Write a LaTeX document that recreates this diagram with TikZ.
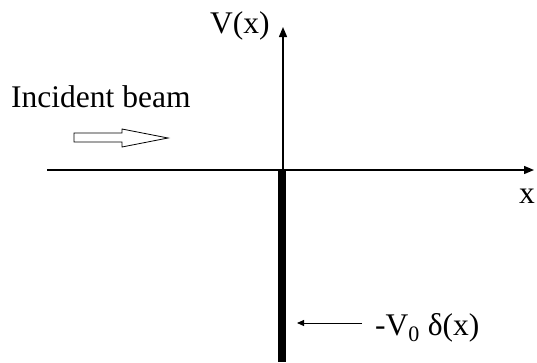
\documentclass[tikz,border=0pt]{standalone}
\usepackage{fontspec}
\setmainfont{Liberation Serif}
\usetikzlibrary{arrows.meta}
\begin{document}
\begin{tikzpicture}[x=1pt, y=-1pt, font=\fontsize{31.5}{36}\selectfont,
  axis/.style={line width=1.4pt, -{Triangle[length=10pt, width=8pt]}},
  pointer/.style={line width=1pt, -{Triangle[length=7pt, width=6pt]}}]
\useasboundingbox (0,0) rectangle (537,362);
% axes
\coordinate (xl) at (47,170);
\coordinate (xr) at (534,170);
\coordinate (o) at (283,170);
\coordinate (yt) at (283,27);
\draw[axis] (xl) -- (xr);
\draw[axis] (o) -- (yt);
\node[anchor=base west, inner sep=0pt] (vlab) at (210,33) {V(x)};
\node[anchor=base, inner sep=0pt] (xlab) at (527,203) {x};
% delta well
\node[fill=black, inner sep=0pt, minimum width=8pt, minimum height=192pt, anchor=north] (bar) at (282,170) {};
% incident beam
\node[anchor=base west, inner sep=0pt] (beam) at (11,107) {Incident beam};
\draw[line width=0.8pt] (74,133) -- (122,133) -- (122,129) -- (168,138) -- (122,147) -- (122,142) -- (74,142) -- cycle;
% label
\node[anchor=base west, inner sep=0pt] (delta) at (375,335) {-V\textsubscript{0} δ(x)};
\coordinate (tail) at (362,323);
\coordinate (head) at (297,323);
\draw[pointer] (tail) -- (head);
\end{tikzpicture}
\end{document}
